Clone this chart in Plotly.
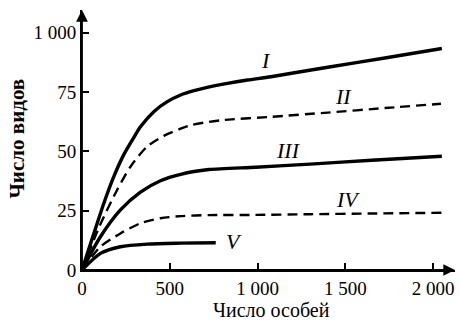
import plotly.graph_objects as go

# Species accumulation curves: number of species vs number of individuals
x_I = [0, 66, 124, 181, 238, 295, 333, 409, 486, 562, 638, 714, 829, 943, 1076, 1400, 1725, 2050]
y_I = [0, 15, 28, 39.3, 48.6, 55.8, 60.3, 66.7, 70.9, 73.7, 75.5, 76.9, 78.6, 80.0, 81.4, 85.4, 89.3, 93.3]

x_II = [0, 100, 200, 276, 371, 466, 562, 619, 723, 809, 1076, 1400, 1725, 2045]
y_II = [0, 18.5, 33.7, 43.5, 52.0, 56.5, 59.5, 61.0, 62.4, 63.2, 64.5, 66.3, 68.2, 70.0]

x_III = [0, 105, 219, 333, 447, 562, 723, 990, 1300, 1650, 2050]
y_III = [0, 14.0, 25.3, 32.8, 37.6, 40.3, 42.3, 43.3, 44.6, 46.2, 47.9]

x_IV = [0, 105, 219, 333, 447, 562, 723, 990, 1300, 1650, 2050]
y_IV = [0, 9.8, 15.4, 19.7, 21.8, 22.7, 23.1, 23.2, 23.5, 23.8, 24.1]

x_V = [0, 105, 219, 371, 562, 762]
y_V = [0, 7.0, 9.8, 10.9, 11.3, 11.5]

curve_names = ["I", "II", "III", "IV", "V"]
label_x = [1047, 1488, 1179, 1515, 865]
label_y = [88.2, 73.1, 50.4, 29.8, 12.2]

x_ticks = [0, 500, 1000, 1500, 2000]
x_tick_text = ["0", "500", "1 000", "1 500", "2 000"]
y_ticks = [0, 25, 50, 75, 100]
y_tick_text = ["0", "25", "50", "75", "1 000"]

X_MAX = 2125
Y_MAX = 109.5
SERIF = "Liberation Serif, Times New Roman, serif"

fig = go.Figure()

series = [
    (x_I, y_I, "solid", 3.4),
    (x_II, y_II, "10px,6px", 2.4),
    (x_III, y_III, "solid", 3.4),
    (x_IV, y_IV, "10px,6px", 2.4),
    (x_V, y_V, "solid", 3.4),
]
for (xs, ys, dash, w), name in zip(series, curve_names):
    fig.add_trace(go.Scatter(
        x=xs, y=ys, mode="lines", name=name,
        line=dict(color="black", width=w, dash=dash, shape="spline", smoothing=0.7),
        cliponaxis=False, showlegend=False,
    ))

for name, lx, ly in zip(curve_names, label_x, label_y):
    fig.add_annotation(
        x=lx, y=ly, xref="x", yref="y", text=f"<i>{name}</i>", showarrow=False,
        font=dict(family=SERIF, size=22, color="black"),
    )

# Axis arrows
fig.add_annotation(x=X_MAX, y=0, ax=0, ay=0, xref="x", yref="y", axref="x", ayref="y",
                   text="", showarrow=True, arrowhead=2, arrowsize=1.3, arrowwidth=1.8,
                   arrowcolor="black")
fig.add_annotation(x=0, y=Y_MAX, ax=0, ay=0, xref="x", yref="y", axref="x", ayref="y",
                   text="", showarrow=True, arrowhead=2, arrowsize=1.3, arrowwidth=1.8,
                   arrowcolor="black")

# Axis titles
fig.add_annotation(x=0.508, y=-0.152, xref="paper", yref="paper",
                   xanchor="center", yanchor="middle",
                   text="Число особей", showarrow=False,
                   font=dict(family=SERIF, size=20, color="black"))
fig.add_annotation(x=-0.174, y=0.506, xref="paper", yref="paper",
                   xanchor="center", yanchor="middle",
                   text="<b>Число видов</b>", showarrow=False, textangle=-90,
                   font=dict(family=SERIF, size=21, color="black"))

fig.update_xaxes(
    range=[0, X_MAX], tickvals=x_ticks, ticktext=x_tick_text,
    ticks="inside", ticklen=7, tickwidth=1.5, tickcolor="black",
    showline=True, linecolor="black", linewidth=1.8,
    showgrid=False, zeroline=False,
    tickfont=dict(family=SERIF, size=19, color="black"),
)
fig.update_yaxes(
    range=[0, Y_MAX], tickvals=y_ticks, ticktext=y_tick_text,
    ticks="inside", ticklen=7, tickwidth=1.5, tickcolor="black",
    showline=True, linecolor="black", linewidth=1.8,
    showgrid=False, zeroline=False,
    tickfont=dict(family=SERIF, size=19, color="black"),
)

fig.update_layout(
    width=460, height=322,
    margin=dict(l=82, r=5, t=10, b=52),
    paper_bgcolor="white", plot_bgcolor="white",
)

fig.write_html("out.html")
